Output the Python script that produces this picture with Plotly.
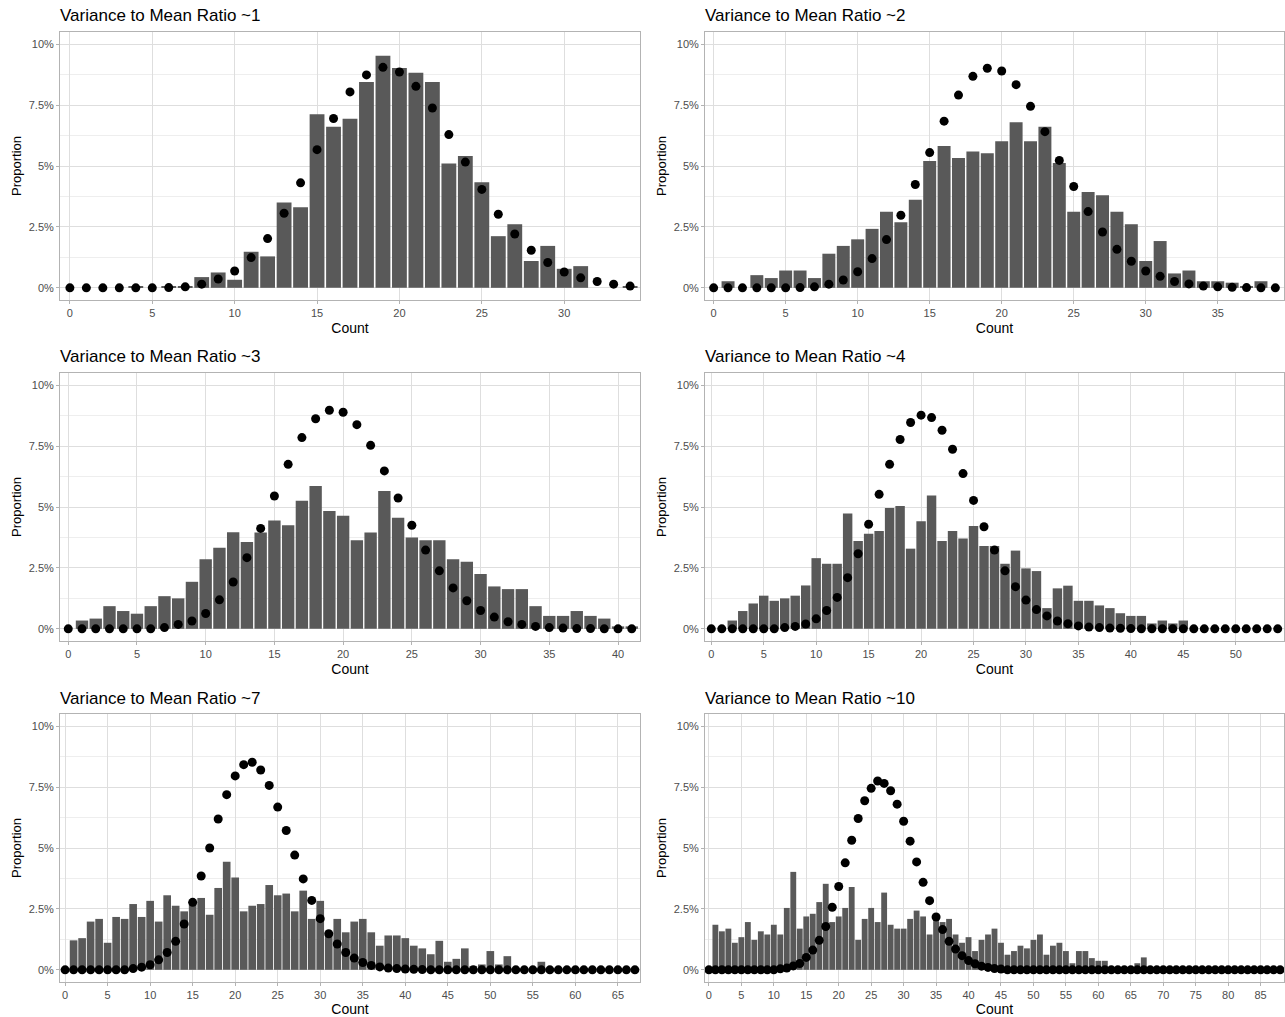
import plotly.graph_objects as go
from plotly.subplots import make_subplots

# ---------------- data (proportions in %) ----------------
titles = ["Variance to Mean Ratio ~1", "Variance to Mean Ratio ~2",
          "Variance to Mean Ratio ~3", "Variance to Mean Ratio ~4",
          "Variance to Mean Ratio ~7", "Variance to Mean Ratio ~10"]

max_count = [34, 39, 41, 54, 67, 88]
x_ticks = [[0, 5, 10, 15, 20, 25, 30],
           [0, 5, 10, 15, 20, 25, 30, 35],
           [0, 5, 10, 15, 20, 25, 30, 35, 40],
           [0, 5, 10, 15, 20, 25, 30, 35, 40, 45, 50],
           [0, 5, 10, 15, 20, 25, 30, 35, 40, 45, 50, 55, 60, 65],
           [0, 5, 10, 15, 20, 25, 30, 35, 40, 45, 50, 55, 60, 65, 70, 75, 80, 85]]

y_tickvals = [0, 2.5, 5, 7.5, 10]
y_ticktext = ["0%", "2.5%", "5%", "7.5%", "10%"]

observed_1 = [0, 0, 0, 0, 0.05, 0, 0.05, 0.05, 0.44, 0.63, 0.33, 1.48, 1.29, 3.50, 3.31,
              7.12, 6.61, 6.94, 8.45, 9.53, 9.02, 8.83, 8.45, 5.10, 5.41, 4.33, 2.12, 2.61,
              1.10, 1.72, 0.78, 0.89, 0, 0, 0.05]
poisson_1 = [0, 0, 0, 0, 0, 0, 0.01, 0.04, 0.15, 0.36, 0.69, 1.24, 2.02, 3.06, 4.31,
             5.67, 6.95, 8.04, 8.74, 9.05, 8.86, 8.27, 7.38, 6.29, 5.16, 4.04, 3.02, 2.21,
             1.54, 1.04, 0.65, 0.41, 0.26, 0.15, 0.07]

observed_2 = [0, 0.27, 0, 0.52, 0.40, 0.71, 0.71, 0.40, 1.40, 1.72, 1.99, 2.42, 3.12, 2.69,
              3.61, 5.21, 5.82, 5.33, 5.60, 5.52, 6.02, 6.80, 6.02, 6.61, 5.12, 3.12, 3.93,
              3.80, 3.12, 2.61, 1.10, 1.92, 0.59, 0.71, 0.27, 0.27, 0.21, 0.05, 0.27, 0]
poisson_2 = [0, 0, 0, 0, 0, 0, 0.01, 0.04, 0.15, 0.32, 0.66, 1.20, 1.98, 2.98, 4.24, 5.55,
             6.84, 7.91, 8.68, 9.01, 8.90, 8.34, 7.45, 6.41, 5.23, 4.16, 3.13, 2.29, 1.58,
             1.09, 0.69, 0.47, 0.26, 0.16, 0.07, 0.04, 0.02, 0.01, 0, 0]

observed_3 = [0, 0.34, 0.42, 0.93, 0.73, 0.62, 0.93, 1.34, 1.25, 1.93, 2.86, 3.33, 3.96,
              3.56, 3.95, 4.45, 4.25, 5.26, 5.86, 4.84, 4.64, 3.64, 3.95, 5.66, 4.56, 3.75,
              3.64, 3.64, 2.86, 2.75, 2.25, 1.74, 1.63, 1.63, 0.93, 0.53, 0.53, 0.73, 0.53,
              0.42, 0.10, 0.10]
poisson_3 = [0, 0, 0, 0, 0, 0, 0, 0.05, 0.18, 0.32, 0.63, 1.19, 1.92, 2.92, 4.12, 5.45,
             6.75, 7.85, 8.62, 8.97, 8.89, 8.38, 7.53, 6.48, 5.37, 4.25, 3.23, 2.38, 1.68,
             1.15, 0.75, 0.48, 0.29, 0.18, 0.10, 0.05, 0.03, 0.01, 0.01, 0, 0, 0]

observed_4 = [0, 0, 0.34, 0.73, 1.04, 1.36, 1.15, 1.25, 1.36, 1.78, 2.90, 2.67, 2.67, 4.73,
              3.60, 3.90, 4.01, 4.96, 5.04, 3.29, 4.41, 5.47, 3.60, 4.01, 3.71, 4.22, 3.40,
              3.40, 2.67, 3.21, 2.48, 2.37, 0.85, 1.66, 1.77, 1.15, 1.15, 0.96, 0.85, 0.64,
              0.53, 0.53, 0.22, 0.34, 0.22, 0.34, 0, 0, 0, 0, 0, 0, 0, 0, 0]
poisson_4 = [0, 0, 0, 0, 0, 0, 0, 0.05, 0.10, 0.20, 0.41, 0.75, 1.29, 2.10, 3.08, 4.29,
             5.52, 6.75, 7.77, 8.47, 8.77, 8.67, 8.15, 7.37, 6.37, 5.27, 4.19, 3.23, 2.38,
             1.73, 1.18, 0.79, 0.53, 0.32, 0.21, 0.12, 0.07, 0.05, 0.03, 0.02, 0.01, 0, 0,
             0, 0, 0, 0, 0, 0, 0, 0, 0, 0, 0, 0]

observed_7 = [0, 1.21, 1.30, 1.98, 2.09, 1.11, 2.17, 2.09, 2.70, 2.17, 2.83, 1.98, 3.06,
              2.63, 2.40, 2.80, 2.95, 2.26, 3.36, 4.44, 3.79, 2.40, 2.63, 2.70, 3.48, 3.06,
              3.13, 2.40, 3.25, 2.09, 2.83, 1.45, 2.09, 1.54, 1.98, 2.09, 1.54, 0.99, 1.41,
              1.41, 1.30, 0.99, 0.88, 0.64, 1.19, 0.33, 0.45, 0.88, 0.16, 0.22, 0.77, 0.22,
              0.56, 0, 0, 0, 0.33, 0, 0, 0, 0, 0, 0, 0, 0, 0, 0, 0]
poisson_7 = [0, 0, 0, 0, 0, 0, 0, 0, 0.05, 0.11, 0.21, 0.41, 0.71, 1.17, 1.88, 2.77, 3.85,
             5.00, 6.19, 7.19, 7.96, 8.42, 8.52, 8.20, 7.57, 6.68, 5.72, 4.71, 3.73, 2.85,
             2.10, 1.48, 1.06, 0.71, 0.48, 0.30, 0.18, 0.12, 0.07, 0.05, 0.03, 0.02, 0.01,
             0, 0, 0, 0, 0, 0, 0, 0, 0, 0, 0, 0, 0, 0, 0, 0, 0, 0, 0, 0, 0, 0, 0, 0, 0]

observed_10 = [0, 1.85, 1.58, 1.69, 1.11, 1.34, 1.96, 1.23, 1.58, 1.45, 1.85, 1.45, 2.54,
               4.02, 1.69, 2.19, 2.30, 2.78, 3.53, 1.96, 2.19, 2.54, 3.40, 1.23, 2.09, 2.54,
               1.96, 3.17, 1.85, 1.69, 1.69, 2.09, 2.43, 2.19, 1.45, 2.00, 1.96, 2.09, 1.45,
               1.11, 1.34, 0.77, 1.23, 1.45, 1.69, 1.11, 0.62, 0.77, 0.99, 0.88, 1.23, 1.45,
               0.62, 0.99, 1.11, 0.77, 0.27, 0.77, 0.77, 0.48, 0.37, 0.37, 0, 0, 0, 0, 0.27,
               0.51, 0, 0, 0, 0, 0, 0, 0, 0, 0, 0, 0, 0, 0, 0, 0, 0, 0, 0, 0, 0, 0]
poisson_10 = [0, 0, 0, 0, 0, 0, 0, 0, 0, 0, 0, 0.04, 0.07, 0.16, 0.26, 0.51, 0.81, 1.21,
              1.78, 2.57, 3.42, 4.39, 5.32, 6.21, 6.94, 7.45, 7.75, 7.65, 7.35, 6.80, 6.10,
              5.28, 4.43, 3.59, 2.84, 2.17, 1.65, 1.17, 0.85, 0.58, 0.38, 0.25, 0.15, 0.10,
              0.05, 0.03, 0, 0, 0, 0, 0, 0, 0, 0, 0, 0, 0, 0, 0, 0, 0, 0, 0, 0, 0, 0, 0, 0,
              0, 0, 0, 0, 0, 0, 0, 0, 0, 0, 0, 0, 0, 0, 0, 0, 0, 0, 0, 0, 0]

observed = [observed_1, observed_2, observed_3, observed_4, observed_7, observed_10]
expected = [poisson_1, poisson_2, poisson_3, poisson_4, poisson_7, poisson_10]

# ---------------- figure ----------------
W, H = 1285, 1017
fig = make_subplots(rows=3, cols=2)

col_dom = [[60 / W, 640 / W], [705 / W, 1284 / W]]
row_px = [(32, 300), (373, 641), (714, 982)]

FONT = "Liberation Sans, Arial, sans-serif"
BAR = "#595959"
GRID = "#DEDEDE"
MINOR = "#EEEEEE"
BORDER = "#B3B3B3"
TICKTXT = "#4D4D4D"

for i in range(6):
    r, c = i // 2 + 1, i % 2 + 1
    counts = list(range(max_count[i] + 1))
    fig.add_trace(go.Bar(x=counts, y=observed[i], width=0.9,
                         marker=dict(color=BAR, line=dict(width=0)),
                         hoverinfo="x+y"), row=r, col=c)
    fig.add_trace(go.Scatter(x=counts, y=expected[i], mode="markers",
                             marker=dict(color="black", size=9, line=dict(width=0)),
                             hoverinfo="x+y"), row=r, col=c)
    top, bot = row_px[r - 1]
    fig.update_xaxes(domain=col_dom[c - 1], range=[-0.6, max_count[i] + 0.6],
                     tickvals=x_ticks[i], ticktext=[str(v) for v in x_ticks[i]],
                     showgrid=True, gridcolor=GRID, gridwidth=1, zeroline=False,
                     showline=True, mirror=True, linecolor=BORDER, linewidth=1,
                     ticks="outside", ticklen=3, tickcolor=BORDER,
                     tickfont=dict(family=FONT, size=11, color=TICKTXT),
                     title=dict(text="Count", standoff=4,
                                font=dict(family=FONT, size=14, color="black")),
                     row=r, col=c)
    fig.update_yaxes(domain=[1 - bot / H, 1 - top / H], range=[-0.5, 10.5],
                     tickvals=y_tickvals, ticktext=y_ticktext,
                     showgrid=True, gridcolor=GRID, gridwidth=1, zeroline=False,
                     minor=dict(tick0=0, dtick=1.25, showgrid=True, gridcolor=MINOR,
                                gridwidth=1, ticks=""),
                     showline=True, mirror=True, linecolor=BORDER, linewidth=1,
                     ticks="outside", ticklen=3, tickcolor=BORDER,
                     tickfont=dict(family=FONT, size=11, color=TICKTXT),
                     title=dict(text="Proportion", standoff=4,
                                font=dict(family=FONT, size=13, color="black")),
                     row=r, col=c)
    fig.add_annotation(text=titles[i], xref="paper", yref="paper",
                       x=(58 if c == 1 else 703) / W, y=1 - (top - 16) / H,
                       xanchor="left", yanchor="middle", showarrow=False,
                       font=dict(family=FONT, size=17, color="black"))

fig.update_layout(width=W, height=H, margin=dict(l=0, r=0, t=0, b=0),
                  plot_bgcolor="white", paper_bgcolor="white",
                  showlegend=False, bargap=0.1)

fig.write_html("out.html", config={"displayModeBar": False},
               post_script="document.body.style.margin='0px';"
                           "document.body.style.overflow='hidden';")
